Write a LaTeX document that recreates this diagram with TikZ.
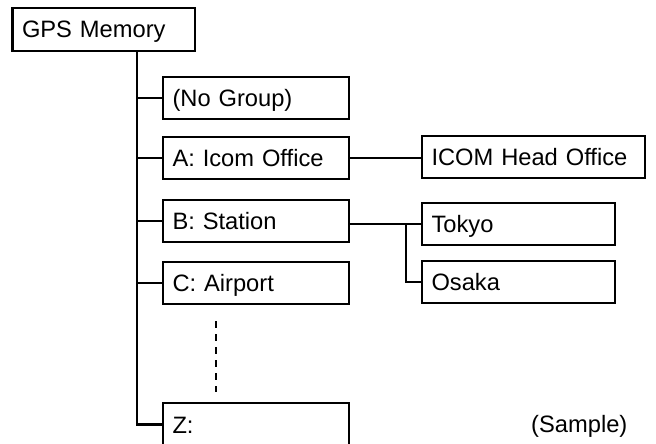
\documentclass[tikz,border=0pt]{standalone}
\usepackage{fontspec}
\setmainfont{Liberation Sans}
\begin{document}
\begin{tikzpicture}[x=1pt,y=-1pt,
  box/.style={draw,line width=2.2pt,rectangle,anchor=north west,outer sep=0pt,
    minimum height=42pt,inner xsep=9.5pt,inner ysep=0pt,text height=17pt,text depth=0pt,
    align=left,font=\fontsize{23.7}{28}\selectfont},
  grp/.style={box,text width=167pt},
  sub/.style={box,text width=174pt},
  link/.style={line width=2.2pt},
  dotlink/.style={line width=2.2pt,dash pattern=on 7pt off 6pt},
  note/.style={anchor=west,inner sep=0pt,text height=17pt,text depth=0pt,font=\fontsize{23.7}{28}\selectfont}
]
\useasboundingbox (0,0) rectangle (656,444);
\clip (0,0) rectangle (656,444);
\node[box,text width=163.5pt,minimum height=43pt] (gps) at (12.5,8) {GPS Memory};
\node[grp] (nog) at (163,77) {(No Group)};
\node[grp] (ga) at (163,137) {A: Icom Office};
\node[box,text width=204pt] (icom) at (422,136) {ICOM Head Office};
\node[grp] (gb) at (163,200) {B: Station};
\node[sub] (tokyo) at (422,203) {Tokyo};
\node[sub] (osaka) at (422,261) {Osaka};
\node[grp] (gc) at (163,262) {C: Airport};
\node[grp,minimum height=43pt] (gz) at (163,403) {Z:};
\node[note] (sample) at (531,424) {(Sample)};
\coordinate (tr) at (137,0);
\coordinate (br) at (406,0);
\coordinate (d1) at (216,321);
\coordinate (d2) at (216,392);
\draw[link] (gps.south -| tr) |- (gz.west);
\draw[link] (tr |- nog.west) -- (nog.west);
\draw[link] (tr |- ga.west) -- (ga.west);
\draw[link] (tr |- gb.west) -- (gb.west);
\draw[link] (tr |- gc.west) -- (gc.west);
\draw[link] (ga.east) -- (ga.east -| icom.west);
\draw[link] (gb.east |- tokyo.west) -- (tokyo.west);
\draw[link] (br |- tokyo.west) |- (osaka.west);
\draw[dotlink] (d1) -- (d2);
\end{tikzpicture}
\end{document}
